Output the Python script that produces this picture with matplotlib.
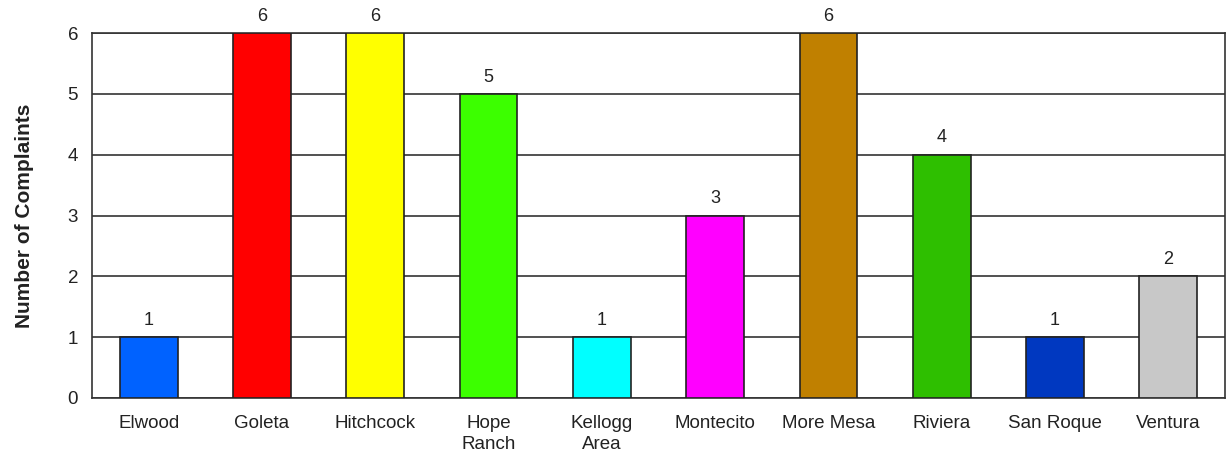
import matplotlib
matplotlib.use("Agg")
import matplotlib.pyplot as plt

categories = ["Elwood", "Goleta", "Hitchcock", "Hope\nRanch", "Kellogg\nArea",
              "Montecito", "More Mesa", "Riviera", "San Roque", "Ventura"]
complaints = [1, 6, 6, 5, 1, 3, 6, 4, 1, 2]
bar_colors = ["#0062FF", "#FF0000", "#FFFF00", "#3CFF00", "#00FFFF",
              "#FF00FF", "#C08000", "#2EBF00", "#0038C0", "#C8C8C8"]
yticks = [0, 1, 2, 3, 4, 5, 6]

plt.rcParams['font.family'] = ['Liberation Sans', 'DejaVu Sans']

fig = plt.figure(figsize=(12.26, 4.54), dpi=100)
ax = fig.add_axes([92/1226, 1 - 398/454, (1225-92)/1226, (398-33)/454])

x = list(range(len(categories)))
bars = ax.bar(x, complaints, width=0.51, color=bar_colors, edgecolor="#222222",
              linewidth=1.2, zorder=3)
for xi, v in zip(x, complaints):
    ax.annotate(str(v), (xi, v), xytext=(0, 6), textcoords="offset points",
                ha="center", va="bottom", fontsize=13, color="#222222")

ax.set_xlim(-0.5, len(categories) - 0.5)
ax.set_ylim(0, 6)
ax.set_yticks(yticks)
ax.set_xticks(x)
ax.set_xticklabels(categories, fontsize=13.5, linespacing=1.3, va="top")
ax.tick_params(axis="both", length=0, colors="#222222")
ax.tick_params(axis="x", pad=12)
ax.tick_params(axis="y", pad=10, labelsize=13.5)
ax.yaxis.grid(True, color="#333333", linewidth=1.2, zorder=0)
ax.set_axisbelow(True)
for s in ax.spines.values():
    s.set_color("#333333")
    s.set_linewidth(1.2)
ax.set_ylabel("Number of Complaints", fontsize=15, fontweight="bold",
              color="#222222", labelpad=24)

fig.savefig("out.png", dpi=100)
